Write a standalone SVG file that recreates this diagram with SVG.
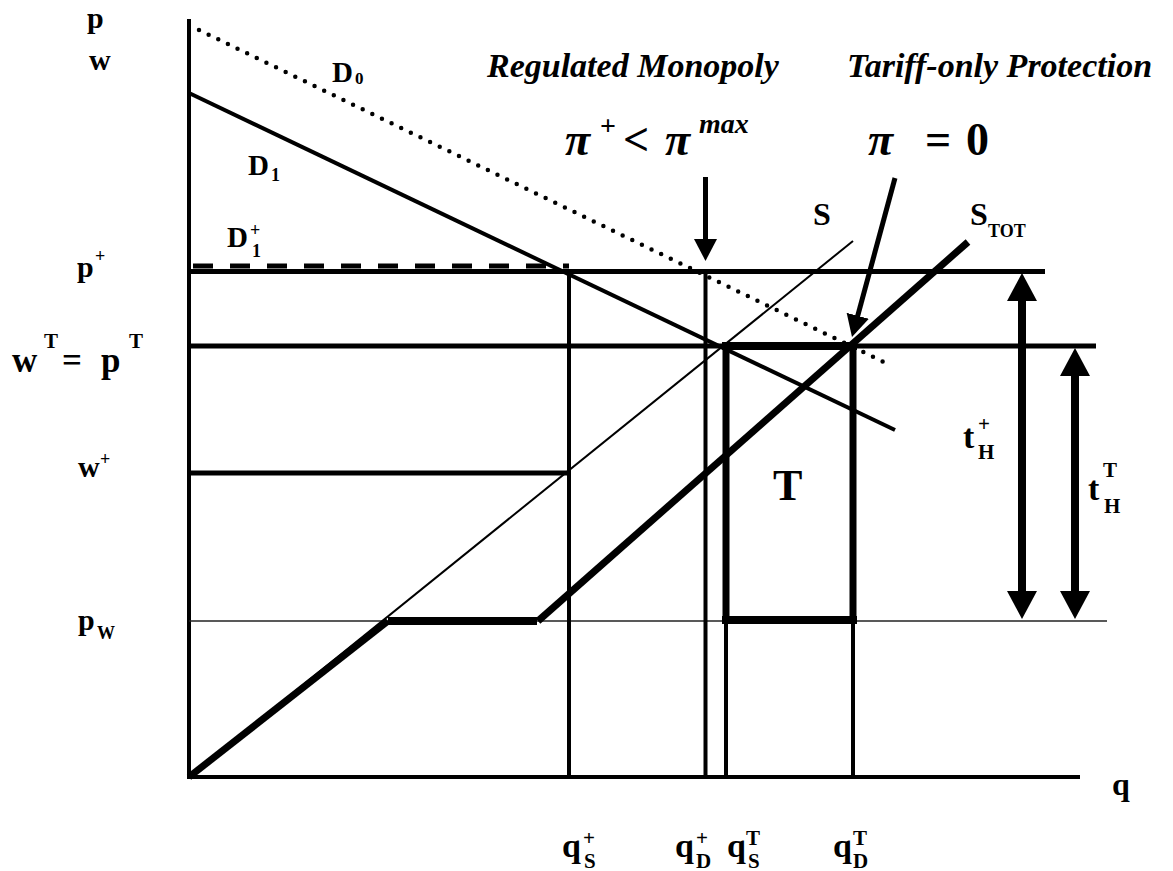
<svg xmlns="http://www.w3.org/2000/svg" width="1173" height="871" viewBox="0 0 1173 871">
<defs>
<marker id="big" markerUnits="userSpaceOnUse" markerWidth="28" markerHeight="30" refX="20" refY="15" orient="auto-start-reverse">
<path d="M0,0 L28,15 L0,30 z" fill="#000"/>
</marker>
<marker id="sm" markerUnits="userSpaceOnUse" markerWidth="22" markerHeight="23" refX="17" refY="11.5" orient="auto">
<path d="M0,0 L22,11.5 L0,23 z" fill="#000"/>
</marker>
</defs>
<rect width="1173" height="871" fill="#fff"/>

<g id="axes" stroke="#000" fill="none">
<line x1="189" y1="19" x2="189" y2="779" stroke-width="4"/>
<line x1="187" y1="777" x2="1080" y2="777" stroke-width="4"/>
</g>

<g id="levels" stroke="#000" fill="none">
<line x1="189" y1="271.5" x2="1045" y2="271.5" stroke-width="5"/>
<line x1="193" y1="266" x2="569" y2="266" stroke-width="5" stroke-dasharray="20 17"/>
<line x1="189" y1="346" x2="1096" y2="346" stroke-width="5"/>
<line x1="189" y1="473" x2="569" y2="473" stroke-width="5"/>
<line x1="189" y1="621" x2="1107" y2="621" stroke-width="1.5" stroke="#222"/>
</g>

<g id="verticals" stroke="#000" fill="none">
<line x1="569" y1="271" x2="569" y2="777" stroke-width="4"/>
<line x1="705.5" y1="271" x2="705.5" y2="777" stroke-width="4"/>
<line x1="726" y1="621" x2="726" y2="777" stroke-width="4"/>
<line x1="853" y1="621" x2="853" y2="777" stroke-width="4"/>
</g>

<g id="rectT" stroke="#000" fill="none">
<line x1="722" y1="346" x2="857" y2="346" stroke-width="8"/>
<line x1="726" y1="346" x2="726" y2="624" stroke-width="7"/>
<line x1="853" y1="346" x2="853" y2="624" stroke-width="7"/>
<line x1="722" y1="620" x2="857" y2="620" stroke-width="8"/>
</g>

<g id="curves" stroke="#000" fill="none">
<line x1="199" y1="30" x2="892" y2="366" stroke-width="4.5" stroke-linecap="round" stroke-dasharray="0 10.7"/>
<line x1="189" y1="93" x2="895" y2="430" stroke-width="4"/>
<line x1="189" y1="777" x2="853" y2="241" stroke-width="2"/>
<line x1="189" y1="777" x2="388" y2="621" stroke-width="7"/>
<line x1="388" y1="621" x2="537" y2="621" stroke-width="8"/>
<line x1="538" y1="621" x2="968" y2="242" stroke-width="7"/>
</g>

<g id="arrows" stroke="#000" fill="none">
<line x1="705.5" y1="177" x2="705.5" y2="256" stroke-width="5" marker-end="url(#sm)"/>
<line x1="895" y1="178" x2="853.3" y2="332.2" stroke-width="5" marker-end="url(#sm)"/>
<line x1="1022" y1="281" x2="1022" y2="611" stroke-width="8" marker-start="url(#big)" marker-end="url(#big)"/>
<line x1="1075" y1="356" x2="1075" y2="611" stroke-width="8" marker-start="url(#big)" marker-end="url(#big)"/>
</g>

<g id="labels" font-family="Liberation Serif, serif" font-weight="bold" fill="#000">
<text x="87" y="28" font-size="30">p</text>
<text x="89" y="70" font-size="30">w</text>
<text font-size="29"><tspan x="332" y="82">D</tspan><tspan x="355" y="84" font-size="17">0</tspan></text>
<text font-size="29"><tspan x="248" y="175">D</tspan><tspan x="271" y="181" font-size="18">1</tspan></text>
<text font-size="29"><tspan x="227" y="247">D</tspan><tspan x="250" y="236" font-size="18">+</tspan><tspan x="252" y="257" font-size="18">1</tspan></text>
<text font-size="30"><tspan x="77" y="277">p</tspan><tspan x="95" y="262" font-size="18">+</tspan></text>
<text font-size="35"><tspan x="12" y="372">w</tspan><tspan x="44" y="348" font-size="21">T</tspan><tspan x="62" y="372">=</tspan><tspan x="101" y="372">p</tspan><tspan x="129" y="348" font-size="21">T</tspan></text>
<text font-size="30"><tspan x="78" y="477">w</tspan><tspan x="100" y="465" font-size="18">+</tspan></text>
<text font-size="30"><tspan x="78" y="630">p</tspan><tspan x="97" y="639" font-size="18">W</tspan></text>
<text x="813" y="225" font-size="32">S</text>
<text font-size="32"><tspan x="970" y="225">S</tspan><tspan x="988" y="237" font-size="18">TOT</tspan></text>
<text x="773" y="500" font-size="44">T</text>
<text font-size="34"><tspan x="963" y="448">t</tspan><tspan x="978" y="431" font-size="21">+</tspan><tspan x="978" y="459" font-size="21">H</tspan></text>
<text font-size="34"><tspan x="1088" y="500">t</tspan><tspan x="1103" y="477" font-size="21">T</tspan><tspan x="1104" y="513" font-size="21">H</tspan></text>
<text x="1112" y="795" font-size="32">q</text>
<text font-size="34"><tspan x="562" y="857">q</tspan><tspan x="583" y="845" font-size="21">+</tspan><tspan x="584" y="868" font-size="21">S</tspan></text>
<text font-size="34"><tspan x="675" y="857">q</tspan><tspan x="696" y="845" font-size="21">+</tspan><tspan x="696" y="868" font-size="21">D</tspan></text>
<text font-size="34"><tspan x="727" y="857">q</tspan><tspan x="746" y="845" font-size="21">T</tspan><tspan x="748" y="868" font-size="21">S</tspan></text>
<text font-size="34"><tspan x="833" y="857">q</tspan><tspan x="853" y="845" font-size="21">T</tspan><tspan x="853" y="868" font-size="21">D</tspan></text>
<text font-style="italic" x="487" y="77" font-size="34">Regulated Monopoly</text>
<text font-style="italic" x="847" y="77" font-size="34">Tariff-only Protection</text>
<text font-style="italic" font-size="46"><tspan x="565" y="155">π</tspan><tspan x="600" y="135" font-size="28" font-style="normal">+</tspan><tspan x="623" y="155" font-style="normal">&lt;</tspan><tspan x="665" y="155">π</tspan><tspan x="699" y="133" font-size="28">max</tspan></text>
<text font-style="italic" font-size="46"><tspan x="868" y="155">π</tspan><tspan x="925" y="155" font-style="normal">=</tspan><tspan x="966" y="155" font-style="normal">0</tspan></text>
</g>
</svg>
